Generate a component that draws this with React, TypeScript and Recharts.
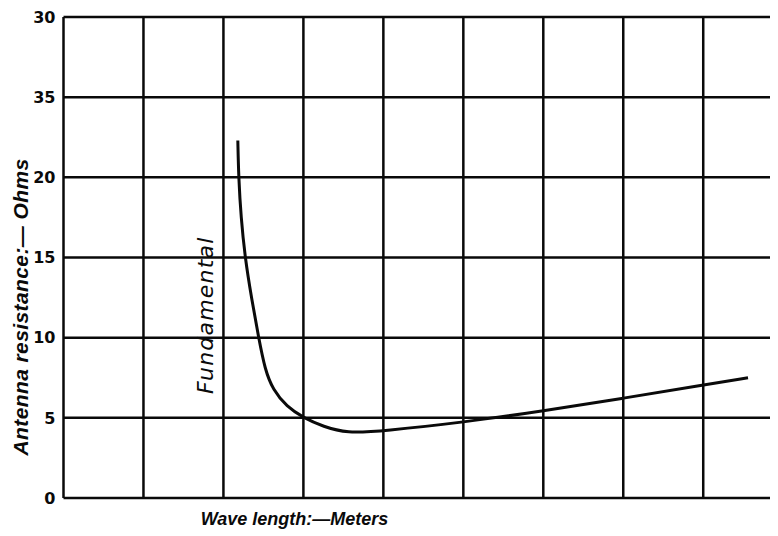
import React from "react";
import {
  LineChart,
  Line,
  XAxis,
  YAxis,
  CartesianGrid,
  ReferenceDot,
  ReferenceLine,
} from "recharts";

// Wave length grid divisions (unlabelled in the original)
const xTicks = [0, 1, 2, 3, 4, 5, 6, 7, 8];
const xDomainMax = 8.935;

// Antenna resistance ticks (the original mislabels 25 as "35")
const yTicks = [0, 5, 10, 15, 20, 25, 30];
const yTickLabels = ["0", "5", "10", "15", "20", "35", "30"];

// Curve
const waveLength = [2.18, 2.19, 2.22, 2.27, 2.35, 2.44, 2.52, 2.62, 2.79, 3.0, 3.25, 3.54, 4.0, 5.0, 6.0, 7.0, 8.0, 8.56];
const resistance = [22.3, 20.0, 17.5, 15.0, 12.5, 10.0, 8.0, 6.74, 5.7, 5.0, 4.45, 4.04, 4.18, 4.72, 5.43, 6.22, 7.05, 7.5];

const data = waveLength.map((x, i) => ({ x, y: resistance[i] }));

const INK = "#0a0a0a";
const LETTER_FONT = "'DejaVu Sans', 'Liberation Sans', sans-serif";
const NARROW_FONT = "'Liberation Sans', Arial, sans-serif";

const YLabel = (props: any) => {
  const vb = props.viewBox;
  const cx = vb.x + 12;
  const cy = vb.y + 290;
  return (
    <text
      x={cx}
      y={cy}
      transform={`rotate(-90, ${cx}, ${cy})`}
      textAnchor="middle"
      dominantBaseline="central"
      fontFamily={NARROW_FONT}
      fontStyle="italic"
      fontWeight="bold"
      fontSize={21}
      letterSpacing={0.4}
      fill={INK}
    >
      Antenna resistance:— Ohms
    </text>
  );
};

const XLabel = (props: any) => {
  const vb = props.viewBox;
  return (
    <text
      x={vb.x + 231}
      y={vb.y + 27}
      textAnchor="middle"
      fontFamily={NARROW_FONT}
      fontStyle="italic"
      fontWeight="bold"
      fontSize={18}
      fill={INK}
    >
      Wave length:—Meters
    </text>
  );
};

const FundLabel = (props: any) => {
  const vb = props.viewBox;
  const cx = vb.x + (vb.width || 0) / 2;
  const cy = vb.y + (vb.height || 0) / 2;
  return (
    <text
      x={cx}
      y={cy}
      transform={`rotate(-90, ${cx}, ${cy})`}
      textAnchor="middle"
      dominantBaseline="central"
      fontFamily={LETTER_FONT}
      fontStyle="italic"
      fontSize={22}
      letterSpacing={1.2}
      fill={INK}
    >
      Fundamental
    </text>
  );
};

export default function App() {
  return (
    <div style={{ width: 770, height: 528, background: "#fff" }}>
      <LineChart
        width={770}
        height={528}
        data={data}
        margin={{ top: 9, right: 0, bottom: 0, left: 0 }}
      >
        <CartesianGrid
          stroke={INK}
          strokeWidth={2.5}
          vertical={false}
        />
        <XAxis
          type="number"
          dataKey="x"
          domain={[0, xDomainMax]}
          ticks={xTicks}
          tick={false}
          tickLine={false}
          axisLine={false}
          height={38}
          label={<XLabel />}
        />
        <YAxis
          type="number"
          domain={[0, 30]}
          ticks={yTicks}
          width={55.5}
          tickLine={false}
          axisLine={false}
          tickFormatter={(v: number) => yTickLabels[yTicks.indexOf(v)]}
          tick={{
            fill: INK,
            fontFamily: LETTER_FONT,
            fontWeight: "bold",
            fontSize: 16,
          }}
          tickMargin={2}
          label={<YLabel />}
        />
        {xTicks.map((v) => (
          <ReferenceLine
            key={v}
            x={v}
            stroke={INK}
            strokeWidth={2.5}
            ifOverflow="visible"
          />
        ))}
        <ReferenceDot
          x={1.77}
          y={11.4}
          r={0}
          fill="none"
          stroke="none"
          label={<FundLabel />}
        />
        <Line
          type="basis"
          dataKey="y"
          stroke={INK}
          strokeWidth={3}
          dot={false}
          isAnimationActive={false}
        />
      </LineChart>
    </div>
  );
}
